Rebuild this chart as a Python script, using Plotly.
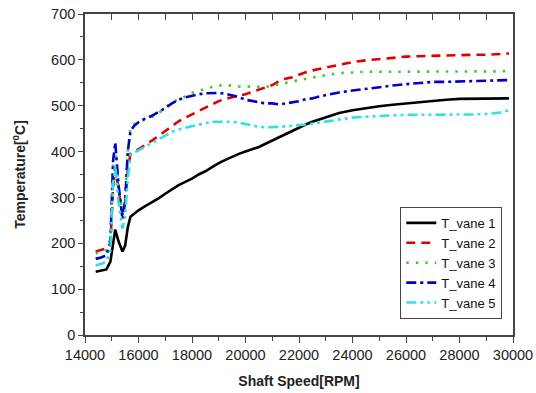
import plotly.graph_objects as go

rpm = [14400, 14600, 14800, 14950, 15050, 15130, 15250, 15400, 15500, 15600, 15700, 15850,
       16000, 16250, 16500, 16750, 17000, 17250, 17500, 17750, 18000, 18250, 18500, 18750,
       19000, 19250, 19500, 19750, 20000, 20250, 20500, 20750, 21000, 21250, 21500, 21750,
       22000, 22250, 22500, 22750, 23000, 23500, 24000, 24500, 25000, 25500, 26000, 26500,
       27000, 27500, 28000, 28500, 29000, 29500, 29850]

t_vane1 = [138, 140, 143, 160, 205, 230, 205, 182, 195, 235, 258, 266,
           272, 281, 289, 298, 308, 318, 327, 334, 341, 350, 357, 366,
           375, 382, 389, 395, 400, 405, 410, 417, 424, 431, 438, 446,
           453, 459, 465, 470, 475, 484, 490, 495, 499, 502, 505, 508,
           510, 513, 515, 515, 515, 516, 516]

t_vane2 = [182, 185, 189, 200, 320, 365, 320, 262, 290, 360, 395, 401,
           405, 414, 424, 434, 445, 457, 466, 474, 481, 488, 495, 503,
           510, 515, 519, 522, 525, 530, 534, 540, 545, 553, 559, 562,
           568, 573, 577, 580, 583, 590, 595, 599, 602, 605, 607, 608,
           609, 610, 611, 611, 611, 612, 614]

t_vane3 = [178, 181, 185, 210, 370, 410, 330, 262, 300, 400, 452, 460,
           465, 470, 476, 484, 495, 507, 514, 520, 528, 533, 537, 541,
           544, 545, 543, 542, 542, 541, 541, 541, 543, 547, 550, 553,
           556, 559, 562, 564, 567, 571, 573, 574, 574, 574, 574, 574,
           574, 574, 574, 575, 575, 575, 576]

t_vane4 = [166, 169, 174, 200, 380, 420, 330, 252, 290, 400, 445, 457,
           464, 472, 478, 486, 495, 505, 513, 518, 522, 525, 527, 528,
           528, 526, 523, 519, 513, 510, 507, 505, 505, 503, 505, 507,
           510, 514, 516, 520, 523, 529, 533, 537, 540, 544, 547, 550,
           552, 552, 553, 554, 555, 555, 556]

t_vane5 = [152, 155, 160, 185, 330, 370, 290, 232, 260, 340, 393, 398,
           402, 410, 418, 427, 436, 443, 448, 452, 455, 459, 462, 465,
           465, 465, 465, 463, 460, 457, 454, 453, 453, 454, 455, 456,
           457, 459, 461, 463, 465, 470, 474, 476, 478, 479, 480, 480,
           480, 480, 481, 481, 482, 485, 490]

names = ["T_vane 1", "T_vane 2", "T_vane 3", "T_vane 4", "T_vane 5"]
series = [t_vane1, t_vane2, t_vane3, t_vane4, t_vane5]
colors = ["#000000", "#e00000", "#33cc33", "#0000c8", "#33e0e0"]
dashes = ["solid", "9px,6px", "2.5px,7px", "10px,4px,3px,4px", "10px,4px,3px,4px,3px,4px"]

fig = go.Figure()
for n, y, c, d in zip(names, series, colors, dashes):
    fig.add_trace(go.Scatter(x=rpm, y=y, mode="lines", name=n,
                             line=dict(color=c, width=2.6, dash=d)))

# invisible trace bound to the top axis so its inside ticks are drawn
fig.add_trace(go.Scatter(x=[rpm[0]], y=[t_vane1[0]], xaxis="x2", mode="markers",
                         marker=dict(opacity=0), showlegend=False, hoverinfo="skip"))

FONT = "Liberation Sans, Arial, sans-serif"
axcol = "#444444"

fig.update_layout(
    width=536, height=393,
    margin=dict(l=85, r=23, t=14, b=58),
    paper_bgcolor="white", plot_bgcolor="white",
    font=dict(family=FONT, size=14, color="#222222"),
    xaxis=dict(
        range=[14000, 30000], dtick=2000, tick0=14000, tickformat="d",
        automargin=False,
        showgrid=False, zeroline=False,
        showline=True, linecolor=axcol, linewidth=1.6, mirror=True,
        ticks="outside", ticklen=6, tickwidth=1.2, tickcolor=axcol,
        minor=dict(dtick=1000, ticks="outside", ticklen=4, tickwidth=1.2, tickcolor=axcol),
        tickfont=dict(size=14.5, family=FONT),
        title=dict(text="<b>Shaft Speed[RPM]</b>", font=dict(size=14, family=FONT), standoff=14),
    ),
    xaxis2=dict(
        range=[14000, 30000], overlaying="x", side="top", dtick=1000, tick0=14000,
        automargin=False,
        showgrid=False, zeroline=False, showticklabels=False, showline=False,
        ticks="inside", ticklen=6, tickwidth=1.2, tickcolor=axcol,
    ),
    yaxis=dict(
        range=[0, 700], dtick=100,
        automargin=False,
        showgrid=False, zeroline=False,
        showline=True, linecolor=axcol, linewidth=1.6, mirror=True,
        ticks="outside", ticklen=5, tickwidth=1.2, tickcolor=axcol,
        minor=dict(dtick=50, ticks="outside", ticklen=3, tickwidth=1.2, tickcolor=axcol),
        tickfont=dict(size=14.5, family=FONT),
        title=dict(text="<b>Temperature[<sup>0</sup>C]</b>", font=dict(size=14, family=FONT), standoff=22),
    ),
    legend=dict(
        x=0.975, y=0.05, xanchor="right", yanchor="bottom",
        bgcolor="white", bordercolor=axcol, borderwidth=1,
        font=dict(size=13, family=FONT, color="#111111"),
        tracegroupgap=0, itemwidth=30,
    ),
    showlegend=True,
)

fig.write_html("out.html")
